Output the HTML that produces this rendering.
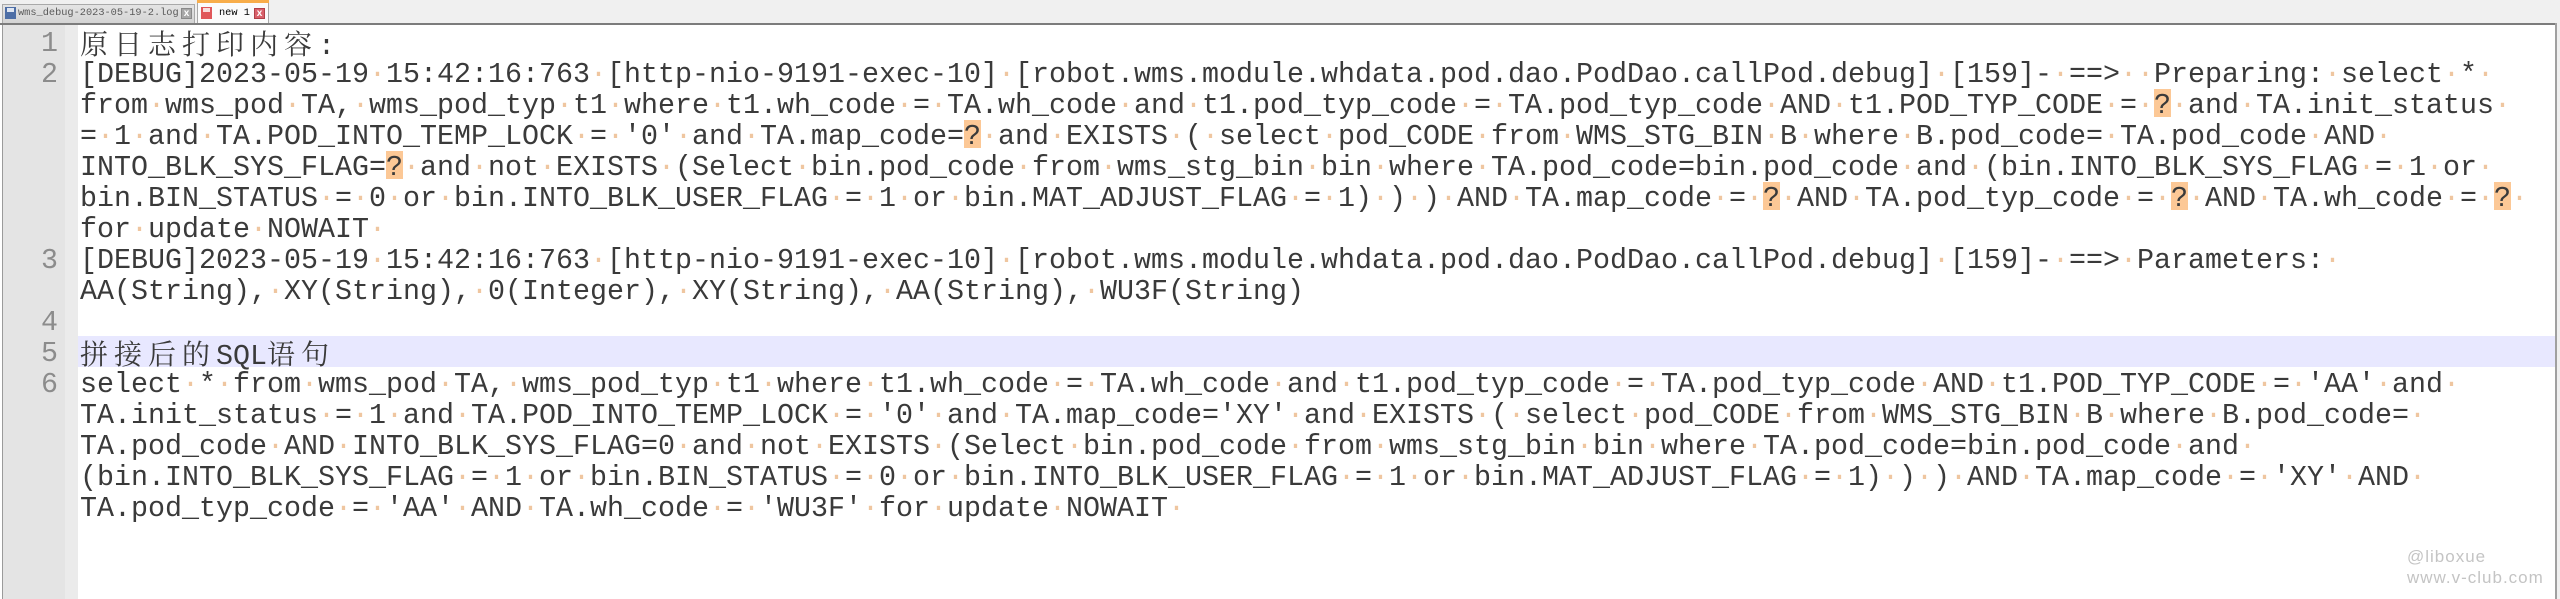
<!DOCTYPE html>
<html>
<head>
<meta charset="utf-8">
<style>
html,body{margin:0;padding:0;width:2560px;height:599px;overflow:hidden;background:#ffffff;}
body{position:relative;}
.abs{position:absolute;}
.tabbar{left:0;top:0;width:2560px;height:23px;background:#f0f0f0;}
.tab1{left:2px;top:4px;width:193px;height:19px;background:linear-gradient(#e4e4e4,#d4d4d4);border:1px solid #a9a9a9;border-bottom:none;box-sizing:border-box;}
.tab2{left:197px;top:0;width:72px;height:23px;background:#fbfbfb;border-left:1px solid #a9a9a9;border-right:1px solid #a9a9a9;box-sizing:border-box;}
.tab2bar{left:197px;top:0;width:72px;height:3px;background:#f8ad4a;}
.ticon{width:11px;height:12px;}
.ttxt{font-family:"Liberation Mono",monospace;font-size:10.3px;line-height:12px;white-space:pre;}
.cls{width:11px;height:11px;box-sizing:border-box;font-family:"Liberation Sans",sans-serif;font-size:10px;line-height:10px;text-align:center;color:#fff;font-weight:bold;}
.sep1{left:0;top:23px;width:2560px;height:2px;background:#7c7c7c;}
.frameL{left:2px;top:25px;width:1px;height:574px;background:#9a9a9a;}
.gutter{left:3px;top:25px;width:62px;height:574px;background:#e4e4e4;}
.fold{left:65px;top:25px;width:13px;height:574px;background:#ebebeb;}
.frameR{left:2555px;top:23px;width:2px;height:576px;background:#a0a0a0;}
.frameR2{left:2557px;top:23px;width:3px;height:576px;background:#f0f0f0;}
.cur{left:78px;top:336px;width:2477px;height:31px;background:#e8e8ff;}
.ln{position:absolute;left:0;width:58px;text-align:right;font-family:"Liberation Mono",monospace;font-size:28.33px;line-height:31px;height:31px;color:#8c8c8c;white-space:pre;}
.r{position:absolute;left:80px;height:31px;font-family:"Liberation Mono",monospace;font-size:28.33px;line-height:31px;color:#3a3a3a;white-space:pre;z-index:1;}
.r i{font-style:normal;color:#efc6a0;}
.r q{quotes:none;position:relative;}
.r q::before{content:"";position:absolute;left:0;right:0;top:0;height:28px;background:#fcc896;z-index:-1;}
.r c{font-family:"Noto Serif CJK SC","Noto Sans CJK SC",serif;font-size:28px;letter-spacing:6px;}
.wm{left:2407px;top:546px;font-family:"Liberation Sans",sans-serif;font-size:17px;line-height:21px;letter-spacing:1px;color:#c4c4c4;white-space:pre;}
</style>
</head>
<body>
<!-- tab bar -->
<div class="abs tabbar"></div>
<div class="abs tab1"></div>
<div class="abs ticon" style="left:5px;top:7px;background:#4d6ea6;"></div>
<div class="abs" style="left:7px;top:8px;width:7px;height:4px;background:#dfe6f2;"></div>
<div class="abs ttxt" style="left:18px;top:7px;color:#5a5a5a;">wms_debug-2023-05-19-2.log</div>
<div class="abs cls" style="left:181px;top:8px;background:#a8a8a8;border:1px solid #8a8a8a;">x</div>
<div class="abs tab2"></div>
<div class="abs tab2bar"></div>
<div class="abs ticon" style="left:201px;top:7px;background:#e0575a;"></div>
<div class="abs" style="left:203px;top:8px;width:7px;height:4px;background:#f8dede;"></div>
<div class="abs ttxt" style="left:219px;top:7px;color:#000;">new 1</div>
<div class="abs cls" style="left:254px;top:8px;background:#d9606a;border:1px solid #b04048;">x</div>
<div class="abs sep1"></div>

<!-- editor frame -->
<div class="abs gutter"></div>
<div class="abs fold"></div>
<div class="abs frameL"></div>
<div class="abs frameR"></div>
<div class="abs frameR2"></div>
<div class="abs cur"></div>

<!-- line numbers -->
<div class="ln" style="top:28px;">1</div>
<div class="ln" style="top:59px;">2</div>
<div class="ln" style="top:245px;">3</div>
<div class="ln" style="top:307px;">4</div>
<div class="ln" style="top:338px;">5</div>
<div class="ln" style="top:369px;">6</div>

<!-- text rows -->
<div class="r" style="top:28px;"><c>原日志打印内容</c>:</div>
<div class="r" style="top:59px;">[DEBUG]2023-05-19<i>·</i>15:42:16:763<i>·</i>[http-nio-9191-exec-10]<i>·</i>[robot.wms.module.whdata.pod.dao.PodDao.callPod.debug]<i>·</i>[159]-<i>·</i>==&gt;<i>··</i>Preparing:<i>·</i>select<i>·</i>*<i>·</i></div>
<div class="r" style="top:90px;">from<i>·</i>wms_pod<i>·</i>TA,<i>·</i>wms_pod_typ<i>·</i>t1<i>·</i>where<i>·</i>t1.wh_code<i>·</i>=<i>·</i>TA.wh_code<i>·</i>and<i>·</i>t1.pod_typ_code<i>·</i>=<i>·</i>TA.pod_typ_code<i>·</i>AND<i>·</i>t1.POD_TYP_CODE<i>·</i>=<i>·</i><q>?</q><i>·</i>and<i>·</i>TA.init_status<i>·</i></div>
<div class="r" style="top:121px;">=<i>·</i>1<i>·</i>and<i>·</i>TA.POD_INTO_TEMP_LOCK<i>·</i>=<i>·</i>'0'<i>·</i>and<i>·</i>TA.map_code=<q>?</q><i>·</i>and<i>·</i>EXISTS<i>·</i>(<i>·</i>select<i>·</i>pod_CODE<i>·</i>from<i>·</i>WMS_STG_BIN<i>·</i>B<i>·</i>where<i>·</i>B.pod_code=<i>·</i>TA.pod_code<i>·</i>AND<i>·</i></div>
<div class="r" style="top:152px;">INTO_BLK_SYS_FLAG=<q>?</q><i>·</i>and<i>·</i>not<i>·</i>EXISTS<i>·</i>(Select<i>·</i>bin.pod_code<i>·</i>from<i>·</i>wms_stg_bin<i>·</i>bin<i>·</i>where<i>·</i>TA.pod_code=bin.pod_code<i>·</i>and<i>·</i>(bin.INTO_BLK_SYS_FLAG<i>·</i>=<i>·</i>1<i>·</i>or<i>·</i></div>
<div class="r" style="top:183px;">bin.BIN_STATUS<i>·</i>=<i>·</i>0<i>·</i>or<i>·</i>bin.INTO_BLK_USER_FLAG<i>·</i>=<i>·</i>1<i>·</i>or<i>·</i>bin.MAT_ADJUST_FLAG<i>·</i>=<i>·</i>1)<i>·</i>)<i>·</i>)<i>·</i>AND<i>·</i>TA.map_code<i>·</i>=<i>·</i><q>?</q><i>·</i>AND<i>·</i>TA.pod_typ_code<i>·</i>=<i>·</i><q>?</q><i>·</i>AND<i>·</i>TA.wh_code<i>·</i>=<i>·</i><q>?</q><i>·</i></div>
<div class="r" style="top:214px;">for<i>·</i>update<i>·</i>NOWAIT<i>·</i></div>
<div class="r" style="top:245px;">[DEBUG]2023-05-19<i>·</i>15:42:16:763<i>·</i>[http-nio-9191-exec-10]<i>·</i>[robot.wms.module.whdata.pod.dao.PodDao.callPod.debug]<i>·</i>[159]-<i>·</i>==&gt;<i>·</i>Parameters:<i>·</i></div>
<div class="r" style="top:276px;">AA(String),<i>·</i>XY(String),<i>·</i>0(Integer),<i>·</i>XY(String),<i>·</i>AA(String),<i>·</i>WU3F(String)</div>
<div class="r" style="top:338px;"><c>拼接后的</c>SQL<c>语句</c></div>
<div class="r" style="top:369px;">select<i>·</i>*<i>·</i>from<i>·</i>wms_pod<i>·</i>TA,<i>·</i>wms_pod_typ<i>·</i>t1<i>·</i>where<i>·</i>t1.wh_code<i>·</i>=<i>·</i>TA.wh_code<i>·</i>and<i>·</i>t1.pod_typ_code<i>·</i>=<i>·</i>TA.pod_typ_code<i>·</i>AND<i>·</i>t1.POD_TYP_CODE<i>·</i>=<i>·</i>'AA'<i>·</i>and<i>·</i></div>
<div class="r" style="top:400px;">TA.init_status<i>·</i>=<i>·</i>1<i>·</i>and<i>·</i>TA.POD_INTO_TEMP_LOCK<i>·</i>=<i>·</i>'0'<i>·</i>and<i>·</i>TA.map_code='XY'<i>·</i>and<i>·</i>EXISTS<i>·</i>(<i>·</i>select<i>·</i>pod_CODE<i>·</i>from<i>·</i>WMS_STG_BIN<i>·</i>B<i>·</i>where<i>·</i>B.pod_code=<i>·</i></div>
<div class="r" style="top:431px;">TA.pod_code<i>·</i>AND<i>·</i>INTO_BLK_SYS_FLAG=0<i>·</i>and<i>·</i>not<i>·</i>EXISTS<i>·</i>(Select<i>·</i>bin.pod_code<i>·</i>from<i>·</i>wms_stg_bin<i>·</i>bin<i>·</i>where<i>·</i>TA.pod_code=bin.pod_code<i>·</i>and<i>·</i></div>
<div class="r" style="top:462px;">(bin.INTO_BLK_SYS_FLAG<i>·</i>=<i>·</i>1<i>·</i>or<i>·</i>bin.BIN_STATUS<i>·</i>=<i>·</i>0<i>·</i>or<i>·</i>bin.INTO_BLK_USER_FLAG<i>·</i>=<i>·</i>1<i>·</i>or<i>·</i>bin.MAT_ADJUST_FLAG<i>·</i>=<i>·</i>1)<i>·</i>)<i>·</i>)<i>·</i>AND<i>·</i>TA.map_code<i>·</i>=<i>·</i>'XY'<i>·</i>AND<i>·</i></div>
<div class="r" style="top:493px;">TA.pod_typ_code<i>·</i>=<i>·</i>'AA'<i>·</i>AND<i>·</i>TA.wh_code<i>·</i>=<i>·</i>'WU3F'<i>·</i>for<i>·</i>update<i>·</i>NOWAIT<i>·</i></div>

<!-- watermark -->
<div class="abs wm">@liboxue
www.v-club.com</div>
</body>
</html>
